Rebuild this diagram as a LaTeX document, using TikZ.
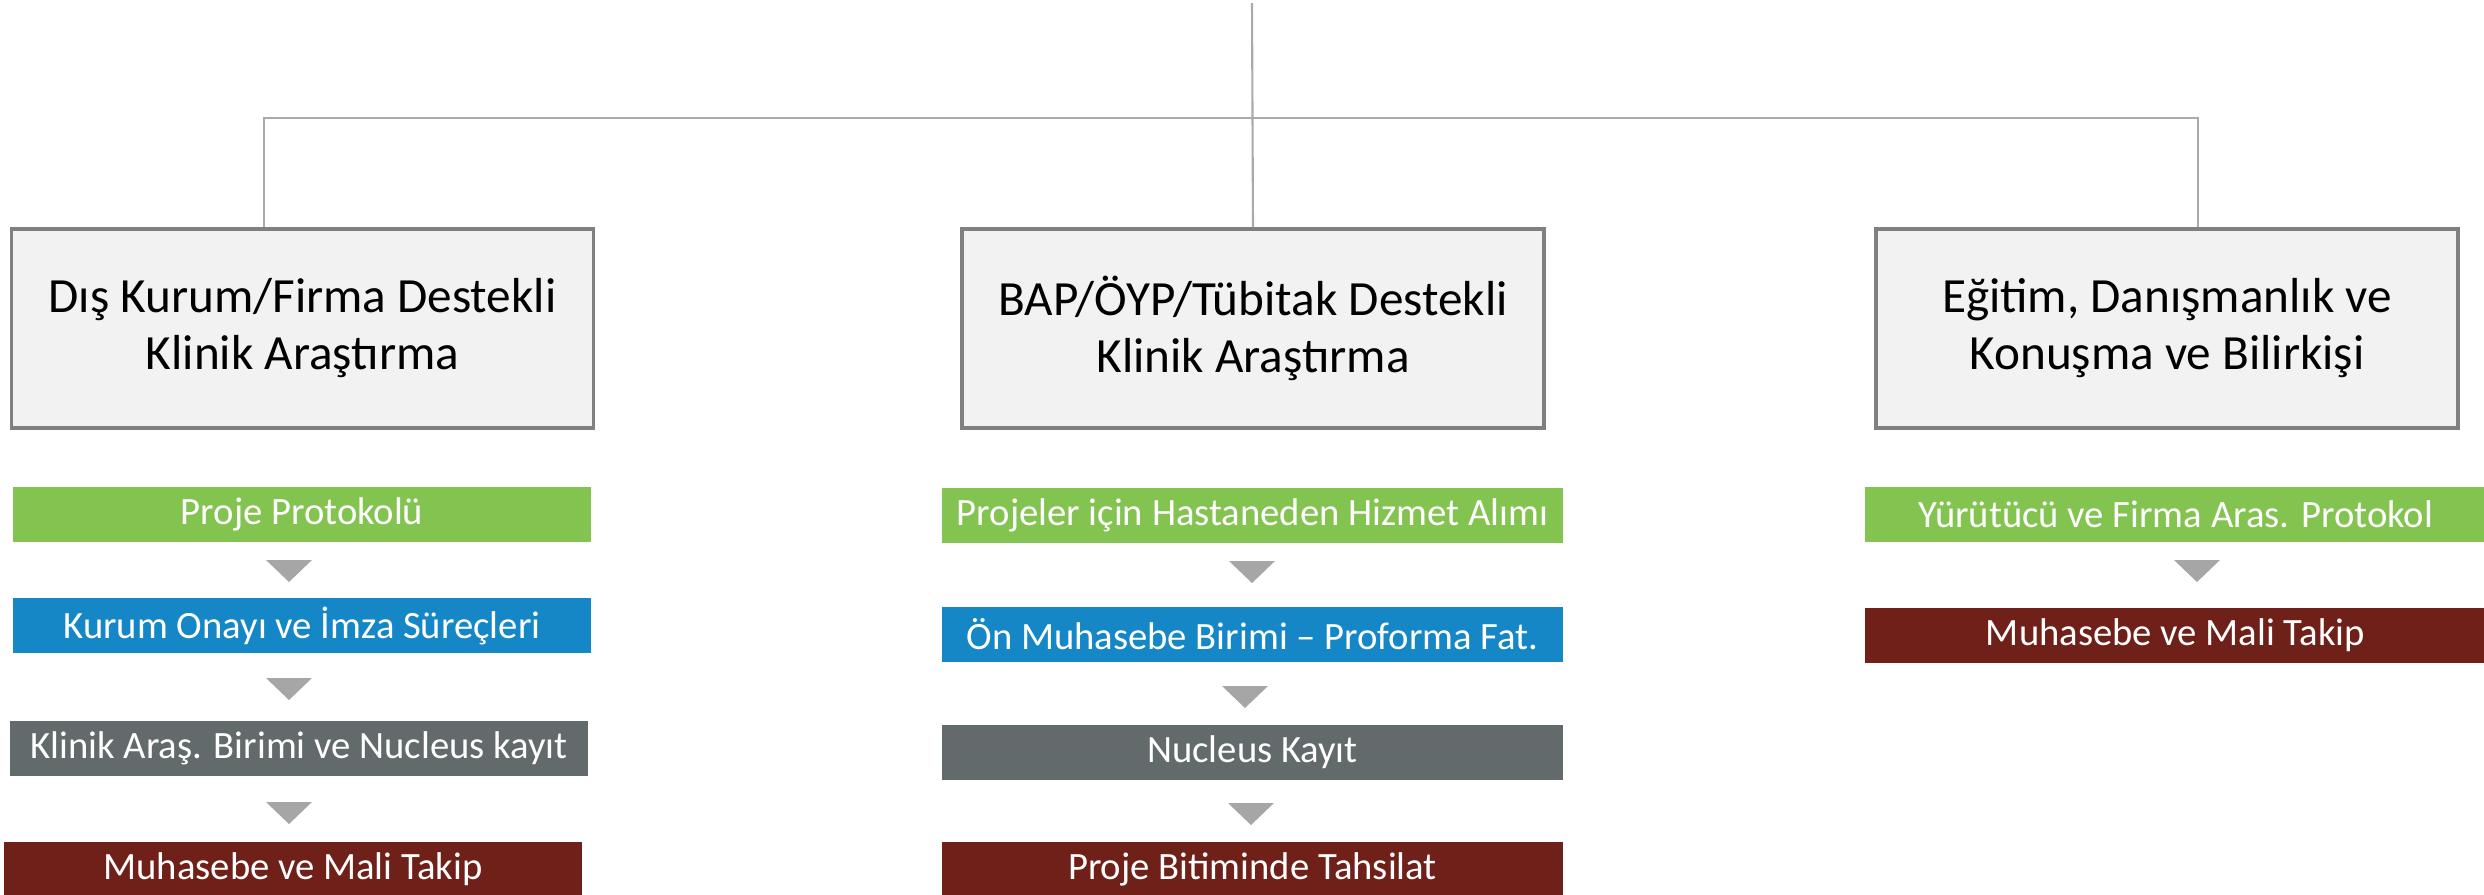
\documentclass[tikz,border=0pt]{standalone}
\usepackage{fontspec}
\setmainfont{Carlito}
\definecolor{boxgray}{HTML}{F2F2F2}
\definecolor{edgegray}{HTML}{808080}
\definecolor{linkgray}{HTML}{AAAAAA}
\definecolor{stepgreen}{HTML}{83C350}
\definecolor{stepblue}{HTML}{1587C6}
\definecolor{stepslate}{HTML}{636A6B}
\definecolor{stepred}{HTML}{6F2019}
\definecolor{trigray}{HTML}{A6A6A6}
\begin{document}
\begin{tikzpicture}[
    head/.style={draw=edgegray,line width=0.9pt,fill=boxgray,minimum width=5.82cm,minimum height=1.99cm,
        inner sep=0pt,align=center,font=\fontsize{14}{16.2}\selectfont},
    stepbox/.style={fill=#1,text=white,minimum height=0.55cm,inner sep=0pt,
        font=\fontsize{11}{13}\selectfont},
    link/.style={draw=linkgray,line width=0.6pt},
    tri/.style={fill=trigray}]
    \useasboundingbox (0,0) rectangle (24.84,-8.94);
    \clip (0,0) rectangle (24.84,-8.94);
    % ust kutular
    \node[head] (dis) at (3.025,-3.285) {Dış Kurum/Firma Destekli\\Klinik Araştırma};
    \node[head] (bap) at (12.53,-3.285) {BAP/ÖYP/Tübitak Destekli\\Klinik Araştırma};
    \node[head] (egt) at (21.67,-3.285) {Eğitim, Danışmanlık ve\\Konuşma ve Bilirkişi};
    \coordinate (top) at (12.52,-0.03);
    \coordinate (hub) at (12.52,-1.18);
    \draw[link] (top) -- (bap.north);
    \draw[link] ([xshift=-3.85mm]dis.north) |- (hub) -| ([xshift=3.1mm]egt.north);
    % sol sutun
    \node[stepbox=stepgreen,minimum width=5.78cm] (pp) at (3.02,-5.145) {Proje Protokolü};
    \node[stepbox=stepblue,minimum width=5.78cm] (ko) at (3.02,-6.255) {Kurum Onayı ve İmza Süreçleri};
    \node[stepbox=stepslate,minimum width=5.78cm] (ka) at (2.99,-7.485) {Klinik Araş. Birimi ve Nucleus kayıt};
    \node[stepbox=stepred,minimum width=5.78cm] (mh) at (2.93,-8.695) {Muhasebe ve Mali Takip};
    % orta sutun
    \node[stepbox=stepgreen,minimum width=6.21cm] (pi) at (12.525,-5.155) {Projeler için Hastaneden Hizmet Alımı};
    \node[stepbox=stepblue,minimum width=6.21cm] (om) at (12.525,-6.345) {Ön Muhasebe Birimi – Proforma Fat.};
    \node[stepbox=stepslate,minimum width=6.21cm] (nk) at (12.525,-7.525) {Nucleus Kayıt};
    \node[stepbox=stepred,minimum width=6.21cm] (pb) at (12.525,-8.695) {Proje Bitiminde Tahsilat};
    % sag sutun
    \node[stepbox=stepgreen,minimum width=6.21cm] (yf) at (21.755,-5.145) {Yürütücü ve Firma Aras. Protokol};
    \node[stepbox=stepred,minimum width=6.21cm] (mf) at (21.755,-6.355) {Muhasebe ve Mali Takip};
    % oklar
    \foreach \x/\y in {2.89/5.60,2.89/6.78,2.89/8.02,12.52/5.61,12.45/6.86,12.51/8.03,21.97/5.60}
        \fill[tri] (\x-0.23,-\y) -- (\x+0.23,-\y) -- (\x,-\y-0.22) -- cycle;
\end{tikzpicture}
\end{document}
